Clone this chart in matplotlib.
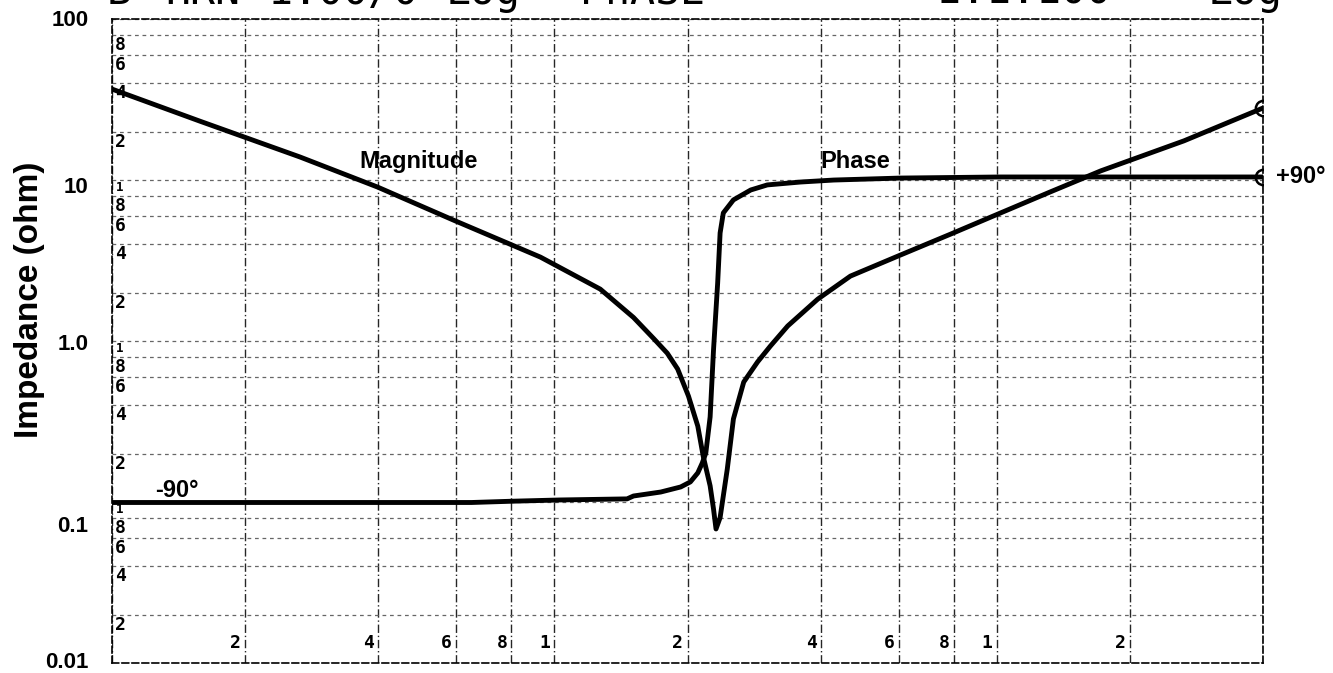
import matplotlib
matplotlib.use("Agg")
import matplotlib.pyplot as plt
from matplotlib.ticker import FixedLocator, NullFormatter
from matplotlib.transforms import ScaledTranslation

# impedance magnitude (ohm) against frequency (log axis, 1 .. 400)
mag_freq = [1.0, 1.58, 2.66, 3.98, 5.91, 9.30, 12.7, 15.1, 16.8, 18.0, 19.0,
            20.1, 21.1, 21.7, 22.5, 22.9, 23.2, 23.7, 24.6, 25.4, 26.8, 28.8,
            30.8, 33.7, 39.4, 46.7, 60.6, 78.8, 102, 132, 172, 265, 400]
mag_ohm = [36.7, 23.2, 13.9, 9.05, 5.64, 3.32, 2.10, 1.40, 1.03, 0.84, 0.670,
           0.455, 0.296, 0.193, 0.126, 0.0905, 0.068, 0.080, 0.160, 0.328,
           0.556, 0.741, 0.931, 1.24, 1.82, 2.53, 3.42, 4.62, 6.24, 8.42,
           11.4, 17.5, 28.0]

# phase (degrees) on the same frequency axis
phase_freq = [1.0, 6.5, 8.0, 10.3, 14.6, 15.1, 17.4, 19.3, 20.3, 21.1, 21.6,
              22.0, 22.5, 22.9, 23.4, 23.7, 24.1, 25.4, 27.8, 30.3, 36.0,
              42.8, 60.6, 102, 400]
phase_deg = [-90.3, -90.3, -89.6, -88.9, -88.3, -86.7, -84.5, -81.7, -78.9,
             -73.9, -68.4, -62.9, -42.9, -5.8, 31.3, 59.0, 70.1, 77.3, 82.8,
             85.6, 87.2, 88.3, 89.4, 90.0, 90.0]

y_major = [0.01, 0.1, 1, 10, 100]
y_major_labels = ["0.01", "0.1", "1.0", "10", "100"]
y_minor = [d * m for d in (0.01, 0.1, 1, 10) for m in (2, 4, 6, 8)]
x_major = [1, 10, 100]
x_minor = [d * m for d in (1, 10) for m in (2, 4, 6, 8)] + [200, 400]
x_paper_digits = ["2", "4", "6", "8", "1", "2", "4", "6", "8", "1", "2"]
x_paper_pos = [2, 4, 6, 8, 10, 20, 40, 60, 80, 100, 200]

# instrument header, cut off at the top of the scan
header_words = ["B", "HRN", "1.00/0", "Log", "PhASE", "1.1.100", "Log"]
header_x = [107, 165, 268, 446, 580, 936, 1208]

BOLD = "Liberation Sans"
MONO = "DejaVu Sans Mono"

fig = plt.figure(figsize=(13.33, 6.73), dpi=100)
ax = fig.add_axes([112 / 1333, 10 / 673, 1151 / 1333, 644 / 673])
ax.set_xscale("log")
ax.set_yscale("log")
ax.set_xlim(1, 400)
ax.set_ylim(0.01, 100)

ax.xaxis.set_major_locator(FixedLocator(x_major))
ax.xaxis.set_minor_locator(FixedLocator(x_minor))
ax.xaxis.set_major_formatter(NullFormatter())
ax.xaxis.set_minor_formatter(NullFormatter())
ax.yaxis.set_major_locator(FixedLocator(y_major))
ax.yaxis.set_minor_locator(FixedLocator(y_minor))
ax.yaxis.set_minor_formatter(NullFormatter())
ax.set_yticklabels(y_major_labels, fontfamily=BOLD, fontweight="bold", fontsize=16)
ax.tick_params(which="both", length=0)
ax.tick_params(axis="y", pad=17)

# shift a few tick labels like on the scanned chart
for lbl, dy in zip(ax.get_yticklabels(), [-3, 22, 1, 5, -1]):
    lbl.set_transform(lbl.get_transform() + ScaledTranslation(0, -dy / 100, fig.dpi_scale_trans))

ax.grid(True, which="both", axis="x", color="0.15", lw=1.0, ls=(0, (6, 2, 1, 2)))
ax.grid(True, which="both", axis="y", color="0.4", lw=0.9, ls=(0, (3, 3)))
for s in ax.spines.values():
    s.set_linestyle((0, (4, 2)))
    s.set_linewidth(1.2)

# digits printed on the chart paper
pkw = dict(textcoords="offset points", fontfamily=MONO, fontweight="bold")
for d, xp in zip(x_paper_digits, x_paper_pos):
    ax.annotate(d, (xp, 0.01), xytext=(-3, 8), ha="right", va="bottom", fontsize=13, **pkw)
for dec in (0.1, 1, 10, 100):
    if dec < 100:
        ax.annotate("1", (1, dec), xytext=(3, -1), ha="left", va="top", fontsize=9, **pkw)
    for m in (8, 6, 4, 2):
        ax.annotate(str(m), (1, dec * m / 10), xytext=(2, -1), ha="left", va="top",
                    fontsize=13, **pkw)

ax.plot(mag_freq, mag_ohm, color="black", lw=3.5, solid_capstyle="round")
ax.plot(mag_freq[-1], mag_ohm[-1], "o", ms=11, mfc="none", mec="black", mew=1.8)

ax2 = ax.twinx()
ax2.set_ylim(-179.2, 177.5)
ax2.set_yticks([])
for s in ax2.spines.values():
    s.set_visible(False)
ax2.plot(phase_freq, phase_deg, color="black", lw=3.5)
ax2.plot(phase_freq[-1], phase_deg[-1], "o", ms=11, mfc="none", mec="black", mew=1.8)

tkw = dict(fontfamily=BOLD, fontweight="bold", fontsize=17)
ax.text(3.62, 13.1, "Magnitude", ha="left", va="center", **tkw)
ax.text(40.0, 13.1, "Phase", ha="left", va="center", **tkw)
ax2.text(1.25, -83.4, "-90°", ha="left", va="center", **tkw)
ax2.text(428, 90, "+90°", ha="left", va="center", clip_on=False, **tkw)

fig.text(30 / 1333, 1 - 300 / 673, "Impedance (ohm)", rotation=90, ha="center", va="center",
         fontfamily=BOLD, fontweight="bold", fontsize=24)

# only the lower edge of the header survives the scan
for w, xp in zip(header_words, header_x):
    fig.text(xp / 1333, 1 - 4 / 673, w, ha="left", va="baseline",
             fontfamily=MONO, fontsize=30)

fig.savefig("out.png", dpi=100)
